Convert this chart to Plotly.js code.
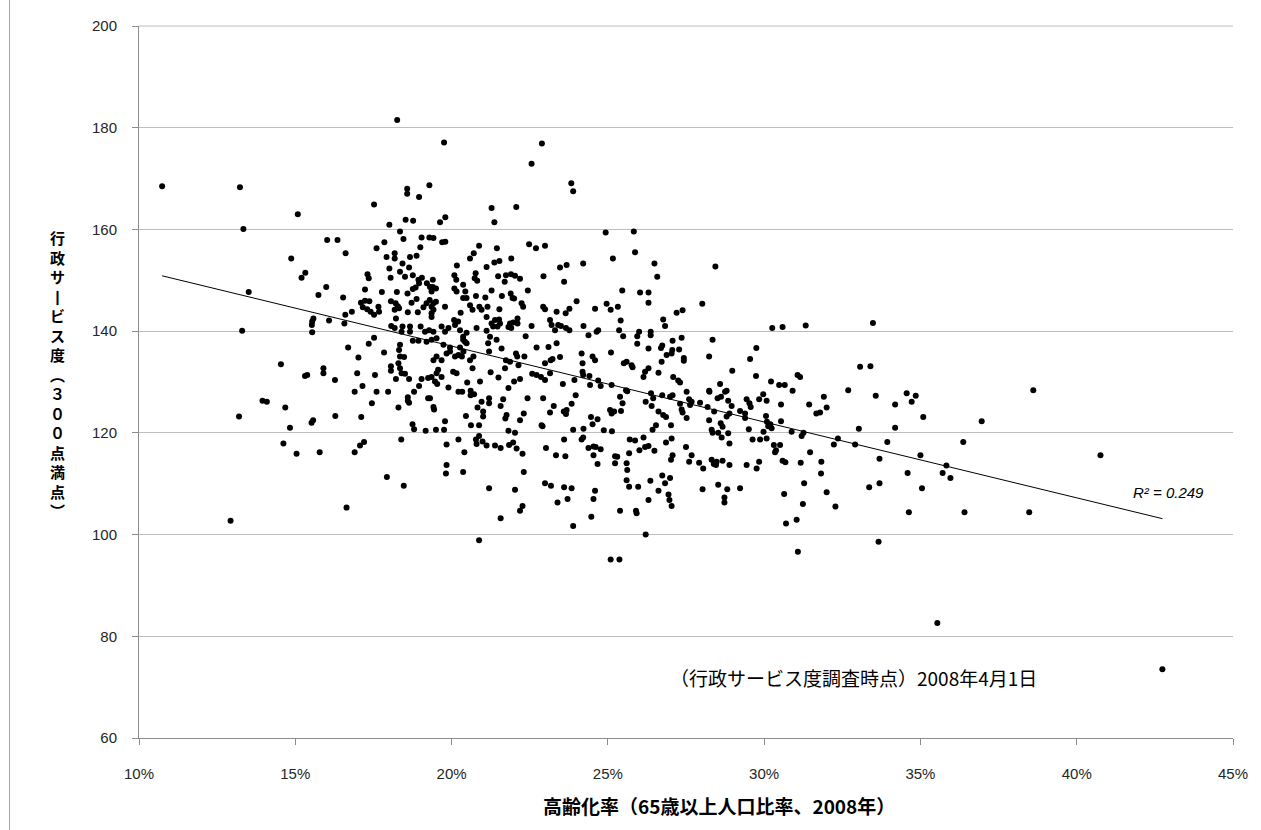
<!DOCTYPE html>
<html>
<head>
<meta charset="utf-8">
<script src="https://cdn.plot.ly/plotly-3.0.1.min.js"></script>
<style>html,body{margin:0;padding:0;background:#fff;}#chart{width:1261px;height:830px;}</style>
</head>
<body>
<div id="chart"></div>
<script>
// 高齢化率 (%)
const ageRate = [
10.74,12.93,13.23,13.34,13.2,13.3,13.51,13.95,14.09,14.54,
14.62,14.68,14.87,14.83,15.04,15.08,15.2,15.32,15.31,15.38,
15.53,15.54,15.58,15.54,15.57,15.52,15.74,15.78,15.9,15.9,
15.99,16.02,16.08,16.27,16.28,16.35,16.53,16.57,16.6,16.61,
16.64,16.69,16.81,16.9,16.9,16.98,17.02,17.07,17.2,17.11,
17.15,17.10,17.23,17.37,17.16,17.3,17.41,17.52,17.66,17.68,
17.23,17.31,17.35,17.35,17.52,17.45,17.55,17.6,17.52,17.6,
17.77,17.84,17.85,17.92,17.93,17.97,18.01,18.01,18.05,18.06,
18.06,18.06,18.07,18.18,18.18,18.18,18.18,18.21,18.22,18.22,
18.25,18.26,18.28,18.3,18.3,18.32,18.32,18.35,18.35,18.35,
18.35,18.35,18.39,18.4,18.4,18.43,18.43,18.46,18.47,18.48,
18.51,18.51,18.53,18.58,18.58,18.59,18.6,18.6,18.6,18.64,
18.64,18.64,18.67,18.67,18.67,18.72,18.75,18.76,18.76,18.76,
18.77,18.8,18.8,18.85,18.88,18.88,18.92,18.94,18.94,18.96,
18.96,18.96,19.0,19.01,19.04,19.04,19.05,19.1,19.15,19.17,
19.2,19.2,19.21,19.25,19.25,19.28,19.29,19.29,19.3,19.31,19.31,
19.4,19.4,19.5,19.36,19.42,19.5,19.42,19.36,19.42,19.36,
19.36,19.42,19.52,19.36,19.42,19.52,19.36,19.52,19.57,19.47,
19.54,19.42,19.44,19.5,19.63,19.7,19.8,19.8,19.76,19.68,
19.9,19.79,19.79,19.74,19.95,19.68,19.84,19.95,19.68,19.9,
19.79,19.76,19.84,19.84,19.82,20.05,20.16,20.11,20.22,20.33,
20.38,20.27,20.37,20.48,20.37,20.48,20.43,20.27,20.09,20.15,
20.17,20.09,20.16,20.37,20.44,20.37,20.48,20.29,20.08,20.21,
20.11,20.59,20.71,20.88,20.77,20.74,20.82,20.78,20.59,20.67,
20.89,20.96,20.8,20.59,20.7,20.67,20.5,20.91,20.22,20.34,
20.61,20.61,20.72,20.96,20.83,20.46,20.62,20.88,20.22,20.41,
20.37,20.78,20.8,20.88,20.99,20.88,21.01,21.01,21.2,21.2,
21.12,21.08,21.15,21.12,21.12,21.23,21.17,21.2,21.25,21.28,
21.37,21.28,21.28,21.39,21.33,21.37,21.45,21.53,21.49,21.53,
21.52,21.55,21.47,21.44,21.5,21.61,21.6,21.65,21.57,21.76,
21.72,21.12,21.39,21.57,21.2,21.57,21.7,21.74,21.9,22.03,
22.19,21.91,21.89,21.95,22.0,21.87,21.97,22.11,22.11,21.82,
21.91,21.74,21.87,22.06,22.1,22.33,22.14,21.71,21.82,22.0,
22.19,22.19,22.31,21.82,22.03,21.84,21.97,22.08,22.27,22.31,
22.03,22.27,22.19,22.07,22.24,22.29,22.37,22.44,22.48,22.56,
22.56,22.43,22.58,22.72,22.86,22.99,22.7,22.72,22.88,22.91,
22.89,22.93,22.99,22.94,22.99,22.93,22.99,22.99,23.02,23.1,
23.15,23.2,23.31,23.41,23.5,23.66,23.77,23.15,23.17,23.23,
23.15,23.27,23.18,23.36,23.36,23.47,23.47,23.34,23.39,23.6,
23.56,23.59,23.6,23.6,23.64,23.65,23.66,23.68,23.68,23.71,
23.77,23.83,23.89,23.84,23.84,23.89,23.89,23.93,23.97,24.0,
24.16,24.19,24.16,24.19,24.21,24.21,24.21,24.22,24.22,24.38,
24.38,24.41,24.43,24.46,24.47,24.51,24.51,24.54,24.54,24.54,
24.59,24.59,24.59,24.61,24.64,24.67,24.67,24.69,24.69,24.77,
24.77,24.87,24.93,24.96,25.09,25.07,25.09,25.1,25.12,25.12,
25.13,25.16,25.2,25.23,25.23,25.3,25.32,25.36,25.37,25.39,
25.39,25.41,25.42,25.46,25.47,25.49,25.51,25.58,25.6,25.6,
25.6,25.62,25.62,25.68,25.68,25.7,
25.76,25.79,25.83,25.87,25.87,25.9,25.92,25.94,25.94,25.97,
26.0,26.01,26.03,26.14,26.14,26.19,26.19,26.21,26.21,26.3,
26.3,26.3,26.3,26.3,26.3,26.36,26.37,26.37,26.38,
26.4,26.43,26.45,26.49,26.49,26.54,26.58,26.62,26.62,26.62,
26.7,26.72,26.74,26.74,26.74,26.77,26.77,26.83,26.83,26.86,
26.86,26.88,26.94,26.97,26.99,26.99,27.02,27.02,27.04,27.04,
27.04,27.06,27.07,27.07,27.07,27.09,27.2,27.25,27.28,
27.31,27.31,27.36,27.36,27.39,27.39,27.43,27.43,
27.5,27.52,27.52,27.6,27.6,27.63,27.68,27.68,27.92,27.95,
28.02,28.03,28.05,28.19,28.24,28.24,28.24,28.25,28.32,28.32,
28.35,28.35,28.39,28.4,28.44,28.46,28.48,28.51,28.53,28.53,
28.59,28.61,28.62,28.64,28.67,28.67,28.73,28.73,28.75,28.8,
28.8,28.82,28.85,28.85,28.89,28.89,28.89,28.96,28.98,29.23,
29.23,29.39,29.39,29.44,29.44,29.51,29.53,29.55,29.57,29.63,
29.74,29.75,29.76,29.84,29.84,29.87,29.97,29.98,30.06,30.08,30.08,
30.09,30.13,30.2,30.22,30.24,30.26,30.31,30.35,30.38,30.48,
30.51,30.54,30.54,30.59,30.59,30.64,30.66,30.68,30.7,30.88,
30.91,31.04,31.07,31.08,31.15,31.17,31.2,31.24,31.26,31.28,
31.33,31.44,31.47,31.67,31.79,31.82,31.83,31.91,32.0,32.0,
32.23,32.28,32.36,32.69,32.91,33.03,33.07,33.36,33.4,33.48,
33.57,33.66,33.69,33.69,33.94,34.19,34.19,34.56,34.59,34.63,
34.72,34.85,35.0,35.05,35.09,35.54,35.71,35.83,35.96,36.37,
36.41,36.96,38.48,38.61,40.76,42.74
];
// 行政サービス度 (300点満点)
const serviceScore = [
168.5,102.7,168.3,160.1,123.2,140.1,147.7,126.3,126.1,133.5,
117.9,125.0,154.3,121.0,115.9,163.0,150.5,151.5,131.2,131.4,
141.2,141.9,142.5,139.8,122.5,122.0,147.1,116.2,132.7,131.7,
148.7,157.9,142.1,130.4,123.3,157.9,146.6,141.5,143.2,155.3,
105.3,136.8,143.8,128.1,116.2,131.7,134.8,117.5,118.2,123.1,
129.2,145.6,146.0,145.9,144.7,144.3,143.8,143.2,144.8,143.8,
148.2,151.2,150.4,137.5,138.7,125.8,131.4,128.1,164.9,156.3,
147.7,135.8,157.5,154.6,111.3,128.1,160.9,152.3,150.5,145.9,
133.1,132.2,141.0,155.3,154.3,144.2,140.6,145.5,142.5,130.6,
147.7,181.5,144.9,133.7,125.0,144.5,136.3,159.6,151.7,137.3,
135.0,132.7,118.7,131.7,139.9,153.3,140.9,158.1,109.6,134.9,
150.7,131.6,161.9,168.0,167.0,147.4,143.7,127.0,126.3,152.5,
130.6,125.9,154.6,140.9,139.9,145.6,121.7,151.0,148.3,138.1,
161.7,128.1,120.7,148.6,154.8,146.3,143.7,150.1,138.1,166.4,
149.4,129.2,156.5,140.9,158.4,130.6,150.5,144.7,139.9,120.4,
145.5,137.9,149.4,130.8,126.8,140.2,168.7,158.4,146.1,148.7,126.8,
150.1,148.7,148.4,147.8,158.3,145.8,145.5,144.8,144.2,143.5,
142.8,139.9,138.6,138.3,134.3,135.0,131.0,131.7,132.4,130.1,
129.6,125.1,124.6,120.6,161.4,157.5,157.6,162.4,177.1,140.9,
140.6,139.9,144.8,137.3,136.8,134.3,135.6,136.0,131.0,128.9,
122.3,120.6,117.7,113.7,112.0,132.0,131.7,135.0,135.3,135.0,
136.0,136.8,138.3,137.6,138.9,139.7,137.9,140.2,151.0,150.1,
152.9,148.4,147.8,149.1,147.8,146.5,146.5,143.6,142.2,141.9,
141.2,154.3,155.3,156.8,151.4,150.4,149.9,146.9,145.1,144.2,
144.8,144.2,140.6,134.3,135.0,132.7,129.9,130.1,128.1,128.1,
128.3,127.4,127.6,126.1,125.0,123.3,121.5,121.5,118.7,116.2,
112.3,118.7,117.8,119.4,118.3,98.9,124.2,123.2,126.8,125.8,
152.6,146.6,144.8,142.8,140.1,138.9,137.6,136.0,131.9,164.2,
161.4,148.0,141.5,142.2,140.9,153.5,156.3,153.8,150.8,144.3,
142.3,141.5,140.9,138.3,130.9,146.9,136.6,126.6,125.3,123.5,
122.8,117.5,117.5,117.0,109.1,103.2,149.7,151.0,151.2,150.9,
150.3,154.3,147.4,146.5,146.4,141.5,141.7,142.5,141.5,140.8,
140.6,134.3,134.0,135.6,135.0,135.0,133.3,132.7,128.8,130.1,
130.6,122.5,123.8,120.4,120.0,117.6,118.1,116.9,115.9,112.3,
108.8,105.6,104.7,164.4,145.5,144.8,139.0,148.0,157.1,172.9,
141.0,126.8,131.6,131.4,131.0,130.4,156.3,136.8,121.5,121.3,
176.9,144.8,144.3,150.8,156.8,126.8,133.7,110.1,117.0,136.9,
142.2,141.2,140.2,141.2,141.0,140.6,140.2,131.7,134.3,134.5,
124.0,125.3,109.6,143.8,137.6,152.5,134.9,115.6,106.3,149.7,
129.6,124.2,118.7,109.3,115.4,143.5,123.7,153.0,124.5,107.0,
144.4,169.1,167.5,125.7,109.1,120.6,101.7,130.4,127.4,145.9,
135.6,133.7,118.7,132.0,131.4,153.3,119.1,141.0,120.8,139.2,
117.0,131.2,129.4,123.1,103.5,135.0,121.7,117.3,115.6,107.0,
144.4,134.3,108.6,117.2,139.9,122.7,113.9,130.3,140.2,129.2,
116.8,120.5,159.4,145.4,144.2,124.5,95.1,135.8,129.4,123.8,
120.3,154.3,124.2,115.4,114.0,115.3,144.8,140.2,95.1,127.1,
104.7,142.1,124.3,148.0,125.8,139.0,133.7,128.4,134.0,114.0,
110.7,128.2,112.7,116.0,109.4,118.7,
133.3,132.9,159.6,155.5,118.5,104.7,104.2,139.0,137.5,109.4,
139.9,116.6,147.6,131.0,119.1,132.0,117.2,126.1,100.0,147.6,
145.6,136.6,132.7,117.4,106.8,110.6,139.9,139.2,127.8,
125.3,120.6,126.8,153.3,116.5,121.5,150.7,131.8,124.2,108.6,
136.7,134.0,137.2,127.4,111.6,142.3,123.5,141.0,110.1,123.1,
118.1,135.3,107.9,106.8,127.1,111.1,121.5,114.7,135.6,118.9,
105.6,136.3,138.1,127.4,115.6,131.0,143.6,130.3,136.4,
129.9,125.7,138.7,124.6,144.1,124.0,134.7,134.2,
117.2,128.1,122.9,126.6,114.3,125.5,126.1,115.6,114.1,125.9,
145.4,108.9,113.0,125.1,135.0,128.3,122.5,128.1,120.6,114.7,
138.3,120.0,113.9,124.2,152.7,113.7,114.3,126.8,120.0,109.8,
129.6,121.9,127.1,119.1,121.2,114.5,107.3,106.3,128.1,128.3,
123.2,108.9,126.3,119.9,123.8,117.9,113.7,125.3,132.2,124.3,
109.1,123.8,122.9,126.6,113.7,120.7,125.8,134.5,125.1,118.7,
131.2,136.7,113.0,126.6,114.3,118.7,127.6,120.2,123.3,126.3,118.9,
122.2,121.3,121.7,130.1,120.9,140.6,117.6,116.2,116.6,129.4,
117.6,125.6,122.3,140.8,114.5,108.0,129.4,114.2,102.2,120.2,
128.3,102.9,131.4,96.6,131.0,114.1,119.4,106.0,120.0,110.1,
141.1,125.6,116.2,123.8,124.0,112.0,114.3,127.1,125.0,108.3,
117.7,105.5,118.9,128.4,117.7,120.8,133.0,109.3,133.1,141.6,
127.3,98.6,114.9,110.1,118.2,125.6,121.0,127.8,112.1,104.4,
126.1,127.3,115.6,109.1,123.1,82.6,112.1,113.6,111.1,118.2,
104.4,122.3,104.4,128.4,115.6,73.5
];

const xTickValues = [10, 15, 20, 25, 30, 35, 40, 45];
const xTickLabels = ['10%', '15%', '20%', '25%', '30%', '35%', '40%', '45%'];
const yTickValues = [60, 80, 100, 120, 140, 160, 180, 200];
const xTitleText = '高齢化率（65歳以上人口比率、2008年）';
const yTitleChars = ['行','政','サ','丨','ビ','ス','度','︵','３','０','０','点','満','点','︶'];
const noteText = '（行政サービス度調査時点）2008年4月1日';
const r2Text = 'R² = 0.249';

// least-squares trend line through the data
const n = Math.min(ageRate.length, serviceScore.length);
let sx = 0, sy = 0, sxx = 0, sxy = 0;
for (let i = 0; i < n; i++) { sx += ageRate[i]; sy += serviceScore[i]; sxx += ageRate[i]*ageRate[i]; sxy += ageRate[i]*serviceScore[i]; }
const slope = (n*sxy - sx*sy) / (n*sxx - sx*sx);
const intercept = (sy - slope*sx) / n;
const xMin = Math.min(...ageRate.slice(0, n)), xMax = Math.max(...ageRate.slice(0, n));

const scatter = {
  type: 'scatter', mode: 'markers',
  x: ageRate.slice(0, n), y: serviceScore.slice(0, n),
  marker: {color: '#000', size: 6, line: {width: 0}},
  hoverinfo: 'x+y', showlegend: false
};
const trend = {
  type: 'scatter', mode: 'lines',
  x: [xMin, xMax], y: [intercept + slope*xMin, intercept + slope*xMax],
  line: {color: '#000', width: 1}, hoverinfo: 'skip', showlegend: false
};

const plotL = 139, plotR = 1233, plotT = 26, plotB = 738;
const pw = plotR - plotL, ph = plotB - plotT;
const px2paperX = p => (p - plotL) / pw;
const px2paperY = p => (plotB - p) / ph;

const annotations = [
  {
    xref: 'paper', yref: 'paper', x: px2paperX(57), y: px2paperY(374),
    xanchor: 'center', yanchor: 'middle', showarrow: false,
    text: '<b>' + yTitleChars.join('<br>') + '</b>',
    font: {family: 'Noto Sans CJK JP', size: 15, color: '#000'}
  },
  {
    xref: 'paper', yref: 'paper', x: px2paperX(719), y: px2paperY(805),
    xanchor: 'center', yanchor: 'middle', showarrow: false, text: '<b>' + xTitleText + '</b>',
    font: {family: 'Noto Sans CJK JP', size: 19, color: '#000'}
  },
  {
    xref: 'paper', yref: 'paper', x: px2paperX(853), y: px2paperY(677),
    xanchor: 'center', yanchor: 'middle', showarrow: false, text: noteText,
    font: {family: 'Noto Sans CJK JP', size: 19, color: '#000'}
  },
  {
    xref: 'paper', yref: 'paper', x: px2paperX(1168), y: px2paperY(492),
    xanchor: 'center', yanchor: 'middle', showarrow: false, text: '<i>' + r2Text + '</i>',
    font: {family: 'Liberation Sans', size: 15, color: '#000'}
  }
];

const layout = {
  width: 1261, height: 830,
  margin: {l: plotL, r: 1261 - plotR, t: plotT, b: 830 - plotB, pad: 0},
  paper_bgcolor: '#fff', plot_bgcolor: '#fff',
  showlegend: false,
  xaxis: {
    range: [10, 45], tickmode: 'array', tickvals: xTickValues, ticktext: xTickLabels,
    showgrid: false, zeroline: false, showline: true, linecolor: '#8c8c8c', linewidth: 1,
    ticks: 'outside', ticklen: 6, tickcolor: '#8c8c8c', ticklabelstandoff: 16,
    tickfont: {family: 'Liberation Sans', size: 15, color: '#262626'}
  },
  yaxis: {
    range: [60, 200], tickmode: 'array', tickvals: yTickValues,
    showgrid: true, gridcolor: '#bdbdbd', gridwidth: 1, zeroline: false,
    showline: true, linecolor: '#8c8c8c', linewidth: 1,
    ticks: 'outside', ticklen: 6, tickcolor: '#8c8c8c', ticklabelstandoff: 12,
    tickfont: {family: 'Liberation Sans', size: 15, color: '#262626'}
  },
  annotations: annotations,
  shapes: [
    {type: 'line', xref: 'paper', yref: 'paper', x0: px2paperX(9.5), x1: px2paperX(9.5), y0: px2paperY(0), y1: px2paperY(830), line: {color: '#a6a6a6', width: 1}},
    {type: 'line', xref: 'paper', yref: 'paper', x0: 0, x1: 1, y0: 1, y1: 1, line: {color: '#bdbdbd', width: 1}, layer: 'below'}
  ]
};

Plotly.newPlot('chart', [scatter, trend], layout, {displayModeBar: false, staticPlot: true});
</script>
</body>
</html>
